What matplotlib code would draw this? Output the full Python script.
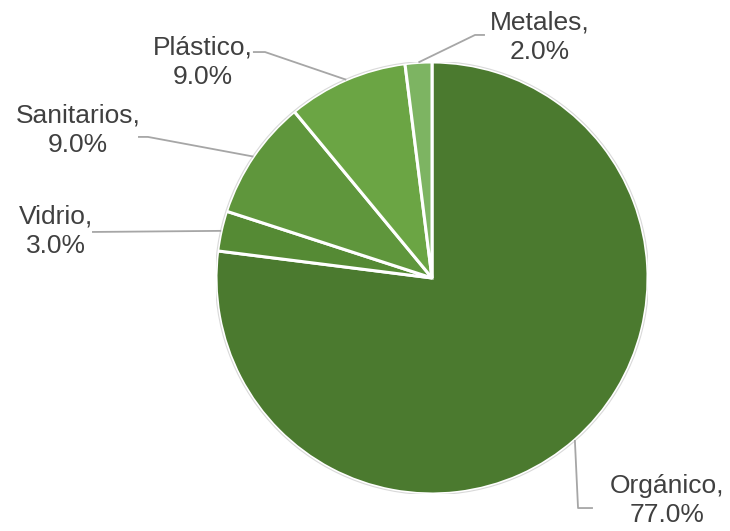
import numpy as np
import matplotlib.pyplot as plt

# Composición de residuos (%)
labels = ["Orgánico", "Vidrio", "Sanitarios", "Plástico", "Metales"]
values = [77.0, 3.0, 9.0, 9.0, 2.0]
colors = ["#4b7a2f", "#558a34", "#5f963c", "#6ba544", "#7db462"]

# label layout: text centre and elbow points (pie radius = 1)
text_pos = [(1.088, -1.03), (-1.741, 0.218), (-1.639, 0.685), (-1.06, 1.0), (0.5, 1.116)]
elbows = [
    [(0.676, -1.065), (0.745, -1.065)],
    [(-1.574, 0.213)],
    [(-1.315, 0.653), (-1.361, 0.653)],
    [(-0.773, 1.046), (-0.829, 1.046)],
    [(0.199, 1.125), (0.245, 1.125)],
]

plt.rcParams["font.family"] = ["Liberation Sans", "DejaVu Sans"]

fig = plt.figure(figsize=(7.3, 5.31), dpi=100)
ax = fig.add_axes([0.2959, 0.0697, 0.5918, 0.8136])

wedges, _ = ax.pie(values, colors=colors, startangle=90, counterclock=False,
                   radius=1, wedgeprops=dict(edgecolor="white", linewidth=2.2))

# light outline round the pie
ax.add_patch(plt.Circle((0, 0), 1.003, fill=False, edgecolor="#d9d9d9", linewidth=0.8))

for w, lab, val, tp, pts in zip(wedges, labels, values, text_pos, elbows):
    mid = np.deg2rad((w.theta1 + w.theta2) / 2)
    xs = [np.cos(mid)] + [p[0] for p in pts]
    ys = [np.sin(mid)] + [p[1] for p in pts]
    ax.plot(xs, ys, color="#a6a6a6", linewidth=1.3, solid_capstyle="butt", clip_on=False)
    ax.text(tp[0], tp[1], f"{lab},\n{val:.1f}%", ha="center", va="center",
            fontsize=19, color="#404040", linespacing=1.28)

ax.set_xlim(-1, 1)
ax.set_ylim(-1, 1)
ax.set_aspect("equal")
ax.axis("off")

fig.savefig("out.png", dpi=100)
